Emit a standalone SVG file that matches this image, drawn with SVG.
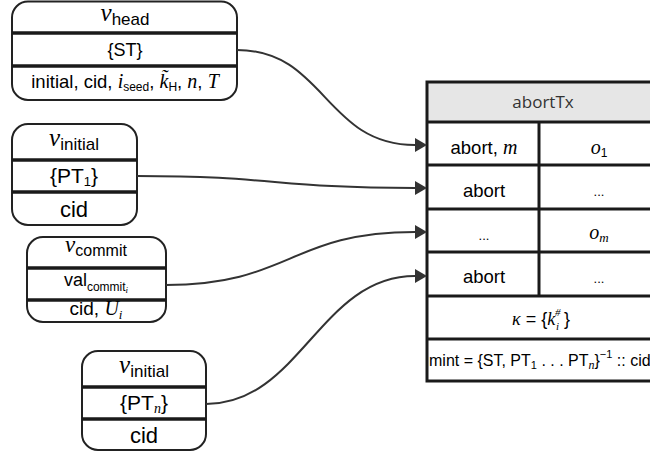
<svg xmlns="http://www.w3.org/2000/svg" width="650" height="459" viewBox="0 0 650 459">
<defs>
<style>
.box{fill:#fff;stroke:#222;stroke-width:2}
.sep{stroke:#1a1a1a;stroke-width:3.5}
.t{font-family:"Liberation Sans","DejaVu Sans",sans-serif;fill:#000;text-anchor:middle}
.s{font-family:"Liberation Sans","DejaVu Sans",sans-serif;fill:#000}
.m{font-family:"Liberation Serif","DejaVu Serif",serif;font-style:italic}
.conn{fill:none;stroke:#333;stroke-width:2}
.tb{fill:none;stroke:#1a1a1a;stroke-width:3}
.tl{stroke:#1a1a1a;stroke-width:3}
</style>
<marker id="ah" viewBox="0 0 12 14" markerWidth="12" markerHeight="14" refX="0" refY="7" orient="auto" markerUnits="userSpaceOnUse">
<path d="M0,0 L12,7 L0,14 z" fill="#333"/>
</marker>
</defs>

<g id="node-head">
<rect class="box" x="12" y="1.5" width="225" height="98.5" rx="16"/>
<line class="sep" x1="12" y1="33" x2="237" y2="33"/>
<line class="sep" x1="12" y1="66" x2="237" y2="66"/>
<text class="t" x="125" y="21" font-size="17"><tspan class="m" font-size="25">ν</tspan><tspan dy="4">head</tspan></text>
<text class="t" x="125" y="56" font-size="18">{ST}</text>
<text class="t" x="125" y="88" font-size="18.5">initial, cid, <tspan class="m" font-size="20">i</tspan><tspan font-size="12" dy="3">seed</tspan><tspan dy="-3">, </tspan><tspan class="m" font-size="20">k̃</tspan><tspan font-size="12" dy="3">H</tspan><tspan dy="-3">, </tspan><tspan class="m" font-size="20">n</tspan>, <tspan class="m" font-size="20">T</tspan></text>
</g>

<g id="node-initial-1">
<rect class="box" x="12" y="124" width="125" height="101" rx="16"/>
<line class="sep" x1="12" y1="160" x2="137" y2="160"/>
<line class="sep" x1="12" y1="192" x2="137" y2="192"/>
<text class="t" x="74" y="146" font-size="17"><tspan class="m" font-size="25">ν</tspan><tspan dy="4">initial</tspan></text>
<text class="t" x="74" y="183" font-size="21">{PT<tspan font-size="13" dy="3">1</tspan><tspan dy="-3">}</tspan></text>
<text class="t" x="74" y="217" font-size="22">cid</text>
</g>

<g id="node-commit">
<rect class="box" x="27" y="237" width="139" height="85" rx="16"/>
<line class="sep" x1="27" y1="268" x2="166" y2="268"/>
<line class="sep" x1="27" y1="300" x2="166" y2="300"/>
<text class="t" x="96" y="252" font-size="16"><tspan class="m" font-size="23">ν</tspan><tspan dy="4">commit</tspan></text>
<text class="t" x="96" y="286" font-size="18">val<tspan font-size="12" dy="5">commit</tspan><tspan class="m" font-size="9" dy="2">i</tspan></text>
<text class="t" x="96" y="315" font-size="19">cid, <tspan class="m" font-size="20">U</tspan><tspan class="m" font-size="13" dy="4">i</tspan></text>
</g>

<g id="node-initial-n">
<rect class="box" x="82" y="351" width="124" height="99" rx="16"/>
<line class="sep" x1="82" y1="387" x2="206" y2="387"/>
<line class="sep" x1="82" y1="419" x2="206" y2="419"/>
<text class="t" x="144" y="373" font-size="17"><tspan class="m" font-size="25">ν</tspan><tspan dy="4">initial</tspan></text>
<text class="t" x="144" y="410" font-size="21">{PT<tspan class="m" font-size="14" dy="3">n</tspan><tspan dy="-3">}</tspan></text>
<text class="t" x="144" y="443" font-size="22">cid</text>
</g>

<g id="node-aborttx">
<rect x="427" y="82" width="232" height="40" fill="#e6e6e6"/>
<rect class="tb" x="427" y="82" width="232" height="299"/>
<line class="tl" x1="427" y1="122" x2="659" y2="122"/>
<line class="tl" x1="427" y1="165" x2="659" y2="165"/>
<line class="tl" x1="427" y1="209" x2="659" y2="209"/>
<line class="tl" x1="427" y1="252" x2="659" y2="252"/>
<line class="tl" x1="427" y1="296" x2="659" y2="296"/>
<line class="tl" x1="427" y1="339" x2="659" y2="339"/>
<line class="tl" x1="539" y1="122" x2="539" y2="296"/>
<text x="543" y="108" font-family="'Open Sans','DejaVu Sans',sans-serif" font-size="17" fill="#333" text-anchor="middle">abortTx</text>
<text class="t" x="484" y="154" font-size="18.5">abort, <tspan class="m" font-size="20">m</tspan></text>
<text class="t" x="599" y="154" font-size="20"><tspan class="m">o</tspan><tspan font-size="12" dy="3">1</tspan></text>
<text class="t" x="484" y="197" font-size="18.5">abort</text>
<text class="t" x="599" y="196" font-size="13">...</text>
<text class="t" x="484" y="240" font-size="13">...</text>
<text class="t" x="599" y="239" font-size="20"><tspan class="m">o</tspan><tspan class="m" font-size="13" dy="3">m</tspan></text>
<text class="t" x="484" y="283" font-size="18.5">abort</text>
<text class="t" x="599" y="283" font-size="13">...</text>
<text class="s" x="512" y="325" font-size="18"><tspan class="m">κ</tspan> = {<tspan class="m">k</tspan></text>
<text class="s m" x="555" y="316" font-size="11">#</text>
<text class="s m" x="556" y="330" font-size="11">i</text>
<text class="s" x="564" y="325" font-size="18">}</text>
<text class="s" x="429" y="366" font-size="16">mint = {ST, PT<tspan font-size="11" dy="3">1</tspan><tspan dy="-3"> . . . PT</tspan><tspan class="m" font-size="12" dy="3">n</tspan><tspan dy="-3">}</tspan><tspan font-size="11" dy="-8">−1</tspan><tspan dy="8"> :: cid</tspan></text>
</g>

<g id="connectors">
<path class="conn" marker-end="url(#ah)" d="M237,50 C325,50 325,145 415,145"/>
<path class="conn" marker-end="url(#ah)" d="M137,176 C275,176 275,188 415,188"/>
<path class="conn" marker-end="url(#ah)" d="M166,285 C290,285 290,232 415,232"/>
<path class="conn" marker-end="url(#ah)" d="M206,404 C300,404 320,276 415,276"/>
</g>
</svg>
